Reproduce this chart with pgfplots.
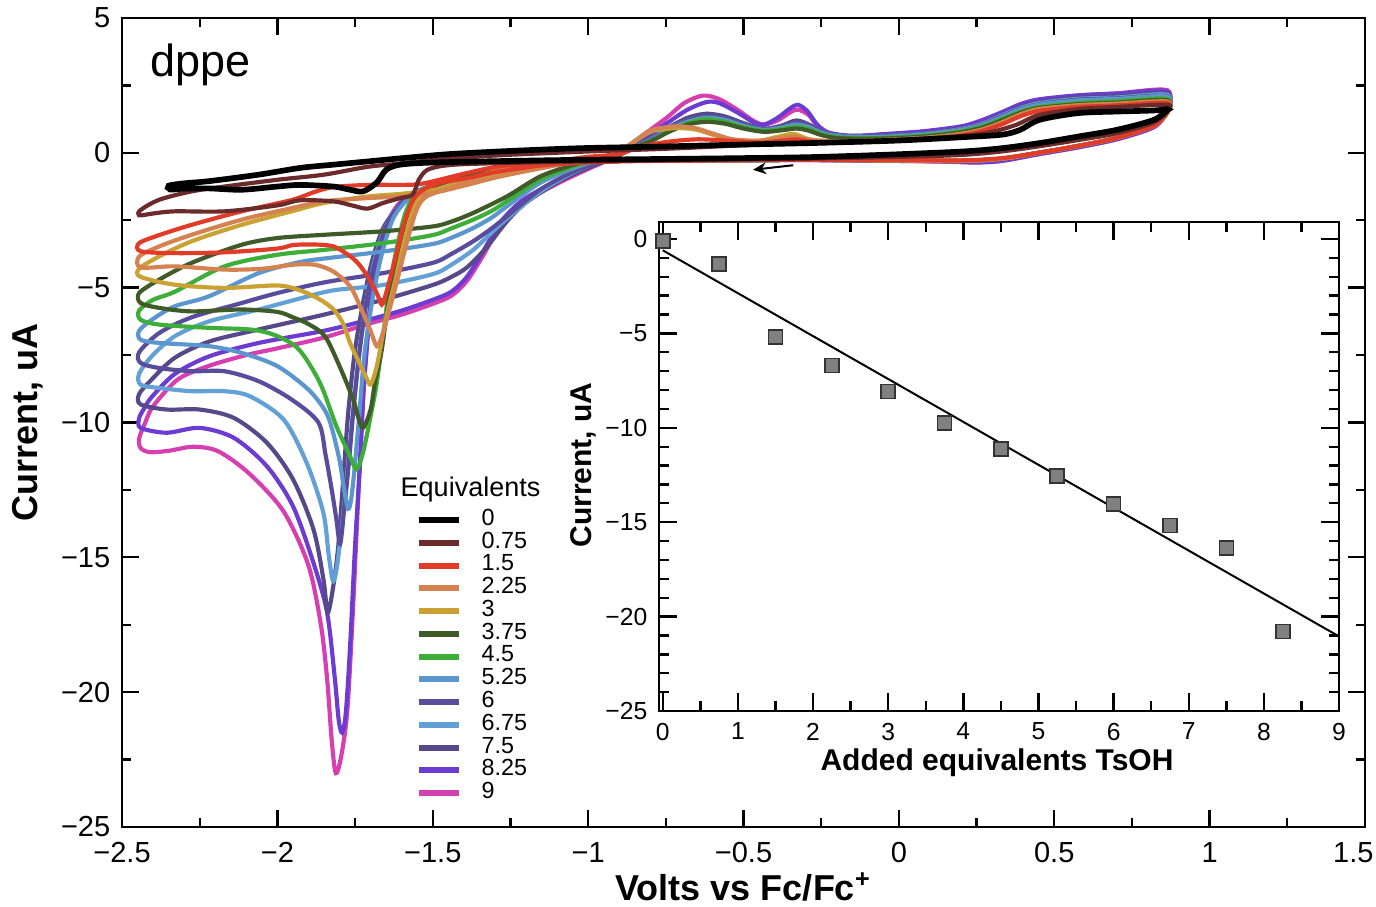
\documentclass[border=0pt]{standalone}
\usepackage{pgfplots}
\pgfplotsset{compat=1.18}
\usepackage{fontspec}
\setmainfont{Liberation Sans}
\usetikzlibrary{arrows.meta,calc}

\definecolor{c0}{HTML}{000000}
\definecolor{c075}{HTML}{6B2B2B}
\definecolor{c15}{HTML}{E23B28}
\definecolor{c225}{HTML}{D4824F}
\definecolor{c3}{HTML}{C9A233}
\definecolor{c375}{HTML}{3F5B27}
\definecolor{c45}{HTML}{3DAE38}
\definecolor{c525}{HTML}{5B96CE}
\definecolor{c6}{HTML}{5A4C9C}
\definecolor{c675}{HTML}{62A0D6}
\definecolor{c75}{HTML}{56498A}
\definecolor{c825}{HTML}{6B3BD2}
\definecolor{c9}{HTML}{D63FB0}

\begin{document}
\begin{tikzpicture}
\begin{axis}[
    name=main,
    scale only axis,
    width=372.9pt, height=242.7pt,
    xmin=-2.5, xmax=1.5, ymin=-25, ymax=5,
    xtick={-2.5,-2,-1.5,-1,-0.5,0,0.5,1,1.5},
    xticklabels={−2.5,−2,−1.5,−1,−0.5,0,0.5,1,{1.5\hspace*{7pt}}},
    ytick={-25,-20,-15,-10,-5,0,5},
    yticklabels={−25,−20,−15,−10,−5,0,5},
    minor x tick num=1, minor y tick num=1,
    major tick length=5pt, minor tick length=2.7pt,
    axis line style={line width=0.8pt},
    every tick/.append style={line width=0.7pt, black},
    tick label style={font=\fontsize{8.7}{10}\selectfont},
    xticklabel style={yshift=-1pt},
    xlabel={Volts vs Fc/Fc\textsuperscript{+}},
    ylabel={Current, uA},
    every axis x label/.style={at={(axis description cs:0.5,-0.074)}, anchor=center, font=\bfseries\fontsize{10.8}{12}\selectfont},
    every axis y label/.style={at={(axis description cs:-0.0756,0.5)}, rotate=90, anchor=center, font=\bfseries\fontsize{10.8}{12}\selectfont},
    reverse legend,
    legend cell align=left,
    legend style={draw=none, fill=none, at={(axis description cs:0.2357,0.3943)}, anchor=north west,
        font=\fontsize{7}{7}\selectfont, inner sep=0pt, column sep=6pt,
        nodes={inner sep=0pt, text height=5pt, text depth=1.83pt}},
    legend image code/.code={\draw[#1, line width=1.8pt] (0pt,0pt) -- (12pt,0pt);},
    every axis plot/.append style={smooth, tension=0.5, line width=1.25pt},
]

% 9 eq
\addplot[c9] coordinates {
(0.864,1.5) (0.82,0.95) (0.70,0.5) (0.575,0.2) (0.45,-0.05) (0.33,-0.3) (0.25,-0.36) (0.15,-0.33) (0.0,-0.3) (-0.3,-0.27) (-0.6,-0.28) (-0.9,-0.3) (-1.1,-0.36) (-1.25,-0.5) (-1.35,-0.7) (-1.43,-0.95) (-1.5,-1.2) (-1.56,-1.5) (-1.61,-1.9) (-1.65,-2.7) (-1.68,-4.0) (-1.70,-5.5) (-1.715,-7.5) (-1.728,-10.0) (-1.742,-13.3) (-1.757,-17.0) (-1.775,-20.7) (-1.795,-22.4) (-1.812,-23.0) (-1.825,-21.8) (-1.84,-19.5) (-1.86,-17.5) (-1.9,-15.3) (-1.98,-13.3) (-2.09,-11.9) (-2.19,-11.07) (-2.27,-10.9) (-2.35,-11.05) (-2.41,-11.1) (-2.44,-10.95)
(-2.445,-10.6) (-2.425,-10.0) (-2.40,-9.4) (-2.32,-8.4) (-2.22,-7.9) (-2.1,-7.5) (-2.0,-7.25) (-1.85,-6.85) (-1.71,-6.35) (-1.6,-6.0) (-1.5,-5.6) (-1.44,-5.3) (-1.39,-4.75) (-1.34,-3.85) (-1.284,-2.75) (-1.21,-1.86) (-1.10,-1.15) (-1.0,-0.6) (-0.95,-0.35) (-0.9,-0.1) (-0.865,0.3) (-0.80,0.85) (-0.743,1.34) (-0.69,1.85) (-0.632,2.12) (-0.58,2.0) (-0.52,1.6) (-0.47,1.2) (-0.435,1.05) (-0.39,1.2) (-0.35,1.5) (-0.325,1.6) (-0.29,1.4) (-0.263,1.0) (-0.226,0.73) (-0.15,0.62) (-0.04,0.68) (0.08,0.78) (0.2,0.95) (0.26,1.15) (0.33,1.47) (0.39,1.78) (0.45,1.96) (0.575,2.12) (0.7,2.2) (0.864,2.32) (0.864,1.5)
};
\addlegendentry{9}

% 8.25 eq
\addplot[c825] coordinates {
(0.864,1.5) (0.82,0.95) (0.70,0.5) (0.575,0.2) (0.45,-0.05) (0.33,-0.3) (0.25,-0.35) (0.15,-0.32) (0.0,-0.3) (-0.3,-0.27) (-0.6,-0.28) (-0.9,-0.3) (-1.1,-0.36) (-1.25,-0.5) (-1.35,-0.7) (-1.43,-0.95) (-1.5,-1.2) (-1.56,-1.5) (-1.61,-1.95) (-1.65,-2.8) (-1.68,-4.1) (-1.70,-5.6) (-1.714,-7.5) (-1.724,-9.0) (-1.734,-11.5) (-1.75,-14.58) (-1.766,-18.3) (-1.78,-20.8) (-1.792,-21.5) (-1.803,-21.0) (-1.815,-19.5) (-1.84,-17.05) (-1.884,-15.2) (-1.95,-13.1) (-2.034,-11.62) (-2.14,-10.57) (-2.25,-10.2) (-2.356,-10.38) (-2.44,-10.2)
(-2.445,-9.85) (-2.43,-9.5) (-2.404,-9.05) (-2.33,-8.2) (-2.22,-7.55) (-2.06,-7.05) (-1.85,-6.6) (-1.71,-6.2) (-1.6,-5.85) (-1.5,-5.45) (-1.44,-5.15) (-1.39,-4.6) (-1.34,-3.7) (-1.284,-2.6) (-1.21,-1.75) (-1.10,-1.05) (-1.0,-0.55) (-0.95,-0.33) (-0.9,-0.1) (-0.865,0.25) (-0.80,0.7) (-0.74,1.15) (-0.68,1.6) (-0.62,1.88) (-0.58,1.85) (-0.52,1.5) (-0.47,1.15) (-0.435,1.04) (-0.39,1.3) (-0.35,1.65) (-0.325,1.78) (-0.295,1.55) (-0.263,1.05) (-0.226,0.75) (-0.15,0.63) (-0.04,0.7) (0.08,0.8) (0.2,0.98) (0.26,1.18) (0.33,1.5) (0.39,1.8) (0.45,1.98) (0.575,2.13) (0.7,2.2) (0.864,2.28) (0.864,1.5)
};
\addlegendentry{8.25}

% 7.5 eq
\addplot[c75] coordinates {
(0.864,1.5) (0.82,1.0) (0.70,0.55) (0.575,0.25) (0.45,0.0) (0.33,-0.22) (0.2,-0.3) (0.0,-0.28) (-0.3,-0.26) (-0.6,-0.28) (-0.9,-0.3) (-1.1,-0.37) (-1.25,-0.52) (-1.35,-0.75) (-1.43,-0.98) (-1.5,-1.2) (-1.56,-1.5) (-1.61,-2.0) (-1.66,-2.8) (-1.695,-4.0) (-1.72,-5.3) (-1.75,-7.3) (-1.772,-9.64) (-1.788,-12.1) (-1.804,-14.58) (-1.82,-16.06) (-1.838,-17.05) (-1.852,-15.8) (-1.884,-13.96) (-1.95,-12.1) (-2.034,-10.75) (-2.14,-9.83) (-2.25,-9.52) (-2.356,-9.52) (-2.44,-9.33)
(-2.445,-8.95) (-2.404,-8.4) (-2.33,-7.6) (-2.22,-7.0) (-2.06,-6.55) (-1.85,-6.0) (-1.66,-5.45) (-1.5,-4.9) (-1.44,-4.6) (-1.39,-4.25) (-1.33,-3.55) (-1.262,-2.55) (-1.2,-1.85) (-1.10,-1.1) (-1.0,-0.55) (-0.95,-0.33) (-0.9,-0.1) (-0.86,0.2) (-0.80,0.55) (-0.74,0.95) (-0.68,1.3) (-0.62,1.45) (-0.56,1.35) (-0.5,1.1) (-0.435,0.9) (-0.38,1.0) (-0.33,1.2) (-0.29,1.05) (-0.25,0.8) (-0.2,0.65) (-0.1,0.62) (0.0,0.66) (0.1,0.74) (0.2,0.9) (0.27,1.1) (0.33,1.4) (0.39,1.7) (0.45,1.88) (0.575,2.05) (0.7,2.1) (0.864,2.2) (0.864,1.5)
};
\addlegendentry{7.5}

% 6.75 eq
\addplot[c675] coordinates {
(0.864,1.5) (0.82,1.0) (0.70,0.55) (0.575,0.25) (0.45,0.0) (0.33,-0.22) (0.2,-0.3) (0.0,-0.28) (-0.3,-0.26) (-0.6,-0.28) (-0.9,-0.3) (-1.1,-0.37) (-1.25,-0.52) (-1.35,-0.75) (-1.43,-0.98) (-1.5,-1.2) (-1.56,-1.5) (-1.61,-2.0) (-1.65,-2.7) (-1.685,-3.9) (-1.715,-5.6) (-1.74,-7.8) (-1.76,-10.0) (-1.78,-12.5) (-1.80,-14.6) (-1.812,-15.6) (-1.822,-15.85) (-1.835,-14.9) (-1.852,-13.35) (-1.906,-11.49) (-1.98,-9.89) (-2.088,-9.03) (-2.17,-8.84) (-2.276,-8.84) (-2.38,-8.72) (-2.44,-8.6)
(-2.445,-8.2) (-2.404,-7.54) (-2.33,-6.8) (-2.22,-6.25) (-2.06,-5.81) (-1.927,-5.4) (-1.82,-5.1) (-1.66,-4.9) (-1.5,-4.5) (-1.44,-4.15) (-1.37,-3.6) (-1.31,-2.95) (-1.262,-2.45) (-1.155,-1.45) (-1.047,-0.72) (-0.98,-0.4) (-0.92,-0.15) (-0.87,0.1) (-0.80,0.5) (-0.74,0.9) (-0.68,1.2) (-0.62,1.35) (-0.56,1.28) (-0.5,1.05) (-0.435,0.88) (-0.38,0.97) (-0.33,1.1) (-0.29,1.0) (-0.25,0.78) (-0.2,0.64) (-0.1,0.6) (0.0,0.64) (0.1,0.72) (0.2,0.88) (0.27,1.08) (0.33,1.38) (0.39,1.65) (0.45,1.84) (0.575,2.0) (0.7,2.05) (0.864,2.15) (0.864,1.5)
};
\addlegendentry{6.75}

% 6 eq
\addplot[c6] coordinates {
(0.864,1.5) (0.82,1.0) (0.70,0.55) (0.575,0.25) (0.45,0.0) (0.33,-0.22) (0.2,-0.3) (0.0,-0.28) (-0.3,-0.26) (-0.6,-0.28) (-0.9,-0.3) (-1.1,-0.37) (-1.25,-0.52) (-1.35,-0.75) (-1.43,-0.98) (-1.5,-1.2) (-1.56,-1.5) (-1.605,-1.95) (-1.645,-2.6) (-1.68,-3.8) (-1.71,-5.3) (-1.735,-7.3) (-1.755,-9.5) (-1.77,-11.5) (-1.785,-13.2) (-1.798,-14.5) (-1.81,-13.6) (-1.825,-12.5) (-1.845,-11.2) (-1.868,-10.0) (-1.954,-9.15) (-2.06,-8.47) (-2.17,-8.1) (-2.276,-8.1) (-2.38,-7.98) (-2.44,-7.79)
(-2.445,-7.4) (-2.38,-6.68) (-2.276,-6.1) (-2.115,-5.57) (-2.0,-5.2) (-1.847,-4.8) (-1.66,-4.46) (-1.5,-4.08) (-1.44,-3.75) (-1.37,-3.28) (-1.31,-2.8) (-1.262,-2.36) (-1.155,-1.37) (-1.047,-0.69) (-0.973,-0.38) (-0.92,-0.15) (-0.87,0.1) (-0.8,0.48) (-0.74,0.88) (-0.68,1.2) (-0.62,1.38) (-0.56,1.3) (-0.5,1.05) (-0.435,0.88) (-0.38,0.98) (-0.33,1.12) (-0.29,1.0) (-0.25,0.78) (-0.2,0.63) (-0.1,0.6) (0.0,0.63) (0.1,0.7) (0.2,0.86) (0.27,1.05) (0.33,1.35) (0.39,1.62) (0.45,1.8) (0.575,1.97) (0.7,2.02) (0.864,2.1) (0.864,1.5)
};
\addlegendentry{6}

% 5.25 eq
\addplot[c525] coordinates {
(0.864,1.5) (0.82,1.0) (0.70,0.55) (0.575,0.25) (0.45,0.0) (0.33,-0.22) (0.2,-0.3) (0.0,-0.28) (-0.3,-0.26) (-0.6,-0.28) (-0.9,-0.3) (-1.1,-0.37) (-1.25,-0.52) (-1.35,-0.75) (-1.43,-0.98) (-1.5,-1.2) (-1.555,-1.5) (-1.595,-1.9) (-1.63,-2.5) (-1.665,-3.8) (-1.695,-5.5) (-1.72,-7.5) (-1.735,-9.5) (-1.75,-11.5) (-1.762,-12.8) (-1.772,-13.2) (-1.785,-12.5) (-1.80,-11.4) (-1.825,-10.2) (-1.847,-9.55) (-1.90,-8.78) (-2.0,-7.91) (-2.115,-7.42) (-2.22,-7.17) (-2.38,-7.05) (-2.44,-6.93)
(-2.445,-6.6) (-2.404,-6.19) (-2.33,-5.69) (-2.22,-5.32) (-2.06,-4.46) (-1.927,-4.05) (-1.82,-3.88) (-1.66,-3.66) (-1.5,-3.38) (-1.44,-3.15) (-1.37,-2.79) (-1.31,-2.4) (-1.262,-1.99) (-1.155,-1.12) (-1.047,-0.57) (-0.98,-0.32) (-0.92,-0.12) (-0.87,0.1) (-0.8,0.45) (-0.74,0.85) (-0.68,1.15) (-0.62,1.3) (-0.56,1.22) (-0.5,1.0) (-0.435,0.85) (-0.38,0.93) (-0.33,1.05) (-0.29,0.95) (-0.25,0.75) (-0.2,0.62) (-0.1,0.58) (0.0,0.62) (0.1,0.7) (0.2,0.85) (0.27,1.03) (0.33,1.32) (0.39,1.6) (0.45,1.78) (0.575,1.94) (0.7,2.0) (0.864,2.08) (0.864,1.5)
};
\addlegendentry{5.25}

% 4.5 eq
\addplot[c45] coordinates {
(0.864,1.5) (0.82,1.0) (0.70,0.55) (0.575,0.25) (0.45,0.0) (0.33,-0.22) (0.2,-0.3) (0.0,-0.28) (-0.3,-0.26) (-0.6,-0.28) (-0.9,-0.3) (-1.1,-0.37) (-1.25,-0.52) (-1.35,-0.76) (-1.45,-1.05) (-1.52,-1.3) (-1.56,-1.6) (-1.59,-2.3) (-1.615,-3.5) (-1.64,-5.0) (-1.66,-6.8) (-1.68,-8.53) (-1.70,-9.77) (-1.724,-11.1) (-1.745,-11.74) (-1.766,-11.25) (-1.81,-10.14) (-1.863,-8.53) (-1.93,-7.3) (-2.0,-6.8) (-2.08,-6.56) (-2.22,-6.49) (-2.38,-6.37) (-2.44,-6.19)
(-2.445,-5.85) (-2.40,-5.45) (-2.33,-5.15) (-2.17,-4.21) (-2.0,-3.78) (-1.85,-3.6) (-1.66,-3.35) (-1.5,-3.05) (-1.44,-2.8) (-1.37,-2.48) (-1.31,-2.15) (-1.262,-1.8) (-1.155,-1.0) (-1.047,-0.5) (-0.98,-0.28) (-0.92,-0.1) (-0.87,0.1) (-0.8,0.42) (-0.74,0.8) (-0.68,1.1) (-0.62,1.25) (-0.56,1.15) (-0.5,0.95) (-0.435,0.82) (-0.38,0.88) (-0.33,0.97) (-0.29,0.88) (-0.25,0.7) (-0.2,0.58) (-0.1,0.55) (0.0,0.58) (0.1,0.66) (0.2,0.8) (0.27,0.98) (0.33,1.25) (0.39,1.52) (0.45,1.7) (0.575,1.85) (0.7,1.92) (0.864,2.0) (0.864,1.5)
};
\addlegendentry{4.5}

% 3.75 eq
\addplot[c375] coordinates {
(0.864,1.5) (0.82,1.0) (0.70,0.55) (0.575,0.25) (0.45,0.0) (0.33,-0.22) (0.2,-0.3) (0.0,-0.28) (-0.3,-0.26) (-0.6,-0.28) (-0.9,-0.3) (-1.1,-0.37) (-1.25,-0.52) (-1.35,-0.78) (-1.46,-1.1) (-1.53,-1.4) (-1.565,-1.8) (-1.595,-2.8) (-1.62,-4.2) (-1.645,-5.7) (-1.664,-7.3) (-1.686,-8.53) (-1.70,-9.52) (-1.724,-10.2) (-1.74,-9.8) (-1.756,-9.15) (-1.8,-7.91) (-1.847,-6.8) (-1.90,-6.35) (-1.95,-6.1) (-2.0,-5.9) (-2.115,-5.81) (-2.276,-5.88) (-2.38,-5.75) (-2.44,-5.57)
(-2.445,-5.2) (-2.38,-4.7) (-2.276,-4.08) (-2.115,-3.41) (-2.0,-3.16) (-1.85,-3.04) (-1.66,-2.91) (-1.5,-2.73) (-1.44,-2.55) (-1.37,-2.23) (-1.262,-1.62) (-1.155,-0.88) (-1.047,-0.44) (-0.973,-0.25) (-0.92,-0.08) (-0.87,0.12) (-0.8,0.42) (-0.74,0.78) (-0.68,1.05) (-0.62,1.15) (-0.56,1.08) (-0.5,0.9) (-0.435,0.78) (-0.38,0.83) (-0.33,0.9) (-0.29,0.82) (-0.25,0.66) (-0.2,0.55) (-0.1,0.52) (0.0,0.55) (0.1,0.62) (0.2,0.76) (0.27,0.94) (0.33,1.2) (0.39,1.48) (0.45,1.66) (0.575,1.8) (0.7,1.86) (0.864,1.95) (0.864,1.5)
};
\addlegendentry{3.75}

% 3 eq
\addplot[c3] coordinates {
(0.864,1.5) (0.82,1.0) (0.70,0.55) (0.575,0.25) (0.45,0.0) (0.33,-0.22) (0.2,-0.3) (0.0,-0.28) (-0.3,-0.26) (-0.6,-0.28) (-0.9,-0.3) (-1.1,-0.38) (-1.25,-0.55) (-1.35,-0.85) (-1.444,-1.2) (-1.525,-1.56) (-1.557,-1.93) (-1.59,-3.2) (-1.62,-4.7) (-1.644,-5.81) (-1.66,-6.68) (-1.68,-7.91) (-1.70,-8.59) (-1.715,-8.3) (-1.74,-7.7) (-1.766,-7.05) (-1.79,-6.3) (-1.82,-5.8) (-1.863,-5.44) (-1.927,-5.1) (-2.0,-4.92) (-2.17,-5.01) (-2.33,-4.89) (-2.44,-4.6)
(-2.445,-4.3) (-2.38,-3.84) (-2.276,-3.28) (-2.115,-2.67) (-1.954,-2.17) (-1.85,-1.86) (-1.71,-1.62) (-1.6,-1.52) (-1.5,-1.38) (-1.39,-1.08) (-1.28,-0.76) (-1.12,-0.42) (-1.0,-0.22) (-0.92,-0.05) (-0.866,0.3) (-0.8,0.78) (-0.75,0.88) (-0.718,0.92) (-0.657,0.87) (-0.595,0.66) (-0.534,0.48) (-0.45,0.45) (-0.38,0.62) (-0.337,0.7) (-0.287,0.5) (-0.2,0.42) (-0.1,0.45) (0.0,0.5) (0.1,0.57) (0.2,0.7) (0.27,0.87) (0.33,1.12) (0.39,1.42) (0.45,1.62) (0.575,1.76) (0.7,1.82) (0.864,1.9) (0.864,1.5)
};
\addlegendentry{3}

% 2.25 eq
\addplot[c225] coordinates {
(0.864,1.5) (0.82,1.0) (0.70,0.55) (0.575,0.25) (0.45,0.0) (0.33,-0.22) (0.2,-0.3) (0.0,-0.28) (-0.3,-0.26) (-0.6,-0.28) (-0.9,-0.3) (-1.1,-0.38) (-1.25,-0.55) (-1.35,-0.88) (-1.444,-1.3) (-1.52,-1.62) (-1.552,-2.11) (-1.584,-3.35) (-1.616,-4.8) (-1.644,-6.0) (-1.662,-6.75) (-1.68,-7.17) (-1.70,-6.6) (-1.734,-5.69) (-1.766,-4.95) (-1.82,-4.4) (-1.88,-4.15) (-1.95,-4.15) (-2.05,-4.3) (-2.17,-4.33) (-2.33,-4.21) (-2.44,-4.25)
(-2.445,-3.85) (-2.38,-3.47) (-2.276,-3.04) (-2.115,-2.48) (-1.954,-2.05) (-1.85,-1.8) (-1.71,-1.68) (-1.605,-1.62) (-1.5,-1.49) (-1.39,-1.19) (-1.284,-0.88) (-1.12,-0.5) (-1.0,-0.25) (-0.92,-0.05) (-0.866,0.3) (-0.8,0.82) (-0.72,0.98) (-0.657,0.92) (-0.595,0.7) (-0.534,0.5) (-0.45,0.45) (-0.38,0.55) (-0.337,0.6) (-0.287,0.48) (-0.2,0.42) (-0.1,0.44) (0.0,0.5) (0.1,0.56) (0.2,0.7) (0.27,0.86) (0.33,1.1) (0.39,1.4) (0.45,1.6) (0.575,1.75) (0.7,1.8) (0.864,1.88) (0.864,1.5)
};
\addlegendentry{2.25}

% 1.5 eq
\addplot[c15] coordinates {
(0.864,1.5) (0.82,1.0) (0.70,0.55) (0.575,0.25) (0.45,0.0) (0.33,-0.2) (0.2,-0.28) (0.0,-0.27) (-0.3,-0.26) (-0.6,-0.28) (-0.9,-0.32) (-1.123,-0.44) (-1.284,-0.69) (-1.39,-0.94) (-1.477,-1.12) (-1.53,-1.37) (-1.563,-1.74) (-1.595,-2.73) (-1.627,-4.21) (-1.65,-5.2) (-1.664,-5.63) (-1.68,-5.2) (-1.71,-4.58) (-1.74,-4.1) (-1.77,-3.8) (-1.82,-3.47) (-1.88,-3.4) (-1.95,-3.42) (-2.0,-3.55) (-2.17,-3.69) (-2.33,-3.72) (-2.44,-3.65)
(-2.445,-3.35) (-2.38,-3.05) (-2.276,-2.67) (-2.115,-2.17) (-1.954,-1.75) (-1.88,-1.45) (-1.82,-1.27) (-1.71,-1.19) (-1.605,-1.19) (-1.55,-1.17) (-1.5,-1.06) (-1.39,-0.75) (-1.284,-0.5) (-1.123,-0.32) (-1.0,-0.15) (-0.9,-0.05) (-0.84,0.2) (-0.75,0.4) (-0.65,0.5) (-0.55,0.45) (-0.45,0.38) (-0.38,0.45) (-0.33,0.5) (-0.28,0.42) (-0.2,0.38) (-0.1,0.4) (0.0,0.45) (0.1,0.52) (0.2,0.65) (0.27,0.82) (0.33,1.05) (0.39,1.35) (0.45,1.55) (0.575,1.7) (0.7,1.76) (0.864,1.85) (0.864,1.5)
};
\addlegendentry{1.5}

% 0.75 eq
\addplot[c075] coordinates {
(0.864,1.55) (0.82,1.12) (0.70,0.72) (0.575,0.47) (0.45,0.24) (0.33,0.05) (0.2,-0.08) (0.0,-0.15) (-0.3,-0.22) (-0.6,-0.26) (-0.9,-0.3) (-1.2,-0.36) (-1.4,-0.42) (-1.477,-0.5) (-1.52,-0.65) (-1.545,-1.0) (-1.565,-1.55) (-1.605,-1.68) (-1.66,-1.86) (-1.71,-2.07) (-1.76,-1.95) (-1.82,-1.8) (-1.927,-1.76) (-2.0,-1.95) (-2.17,-2.17) (-2.33,-2.17) (-2.40,-2.25) (-2.445,-2.32)
(-2.44,-2.12) (-2.38,-1.74) (-2.276,-1.43) (-2.17,-1.25) (-2.0,-1.0) (-1.85,-0.81) (-1.71,-0.52) (-1.605,-0.4) (-1.5,-0.27) (-1.3,-0.1) (-1.0,0.05) (-0.75,0.15) (-0.5,0.28) (-0.3,0.36) (0.0,0.48) (0.2,0.62) (0.3,0.78) (0.38,1.05) (0.45,1.4) (0.575,1.62) (0.7,1.7) (0.864,1.78) (0.864,1.55)
};
\addlegendentry{0.75}

% 0 eq
\addplot[c0, line width=1.7pt] coordinates {
(0.864,1.59) (0.82,1.22) (0.70,0.85) (0.575,0.6) (0.452,0.36) (0.33,0.17) (0.205,0.05) (-0.04,-0.07) (-0.287,-0.16) (-0.53,-0.2) (-0.78,-0.23) (-1.03,-0.26) (-1.25,-0.3) (-1.5,-0.36) (-1.605,-0.44) (-1.65,-0.63) (-1.68,-1.1) (-1.724,-1.43) (-1.766,-1.37) (-1.82,-1.25) (-1.927,-1.19) (-2.0,-1.25) (-2.115,-1.37) (-2.22,-1.32) (-2.30,-1.33) (-2.345,-1.36)
(-2.35,-1.22) (-2.30,-1.13) (-2.22,-1.05) (-2.06,-0.81) (-1.927,-0.56) (-1.82,-0.44) (-1.71,-0.32) (-1.6,-0.2) (-1.45,-0.05) (-1.25,0.07) (-1.03,0.17) (-0.78,0.23) (-0.53,0.3) (-0.287,0.36) (-0.04,0.44) (0.08,0.5) (0.205,0.58) (0.33,0.67) (0.39,0.85) (0.452,1.22) (0.575,1.47) (0.70,1.53) (0.82,1.57) (0.864,1.62) (0.864,1.59)
};
\addlegendentry{0}

\node[anchor=west, inner sep=0pt, font=\fontsize{13.5}{16}\selectfont] at (axis cs:-2.41,3.25) {dppe};
\node[anchor=west, inner sep=0pt, font=\fontsize{8.1}{9}\selectfont] at (axis description cs:0.2237,0.4166) {Equivalents};
\draw[-{Stealth[length=4pt,width=3.5pt]}, line width=0.6pt] (axis cs:-0.34,-0.46) -- (axis cs:-0.47,-0.63);
\end{axis}

\begin{axis}[
    at={($(main.north west)+(161.1pt,-61.2pt)$)}, anchor=north west,
    scale only axis,
    width=204pt, height=146.7pt,
    xmin=-0.05, xmax=9, ymin=-25, ymax=0.9,
    clip=false,
    axis background/.style={fill=white},
    xtick={0,1,2,3,4,5,6,7,8,9},
    xticklabels={0,1,2,3,4,5,6,7,8,9},
    ytick={-25,-20,-15,-10,-5,0},
    yticklabels={−25,−20,−15,−10,−5,0},
    minor x tick num=1, minor y tick num=4,
    major tick length=5.5pt, minor tick length=3pt,
    axis line style={line width=0.8pt},
    every tick/.append style={line width=0.7pt, black},
    tick label style={font=\fontsize{7.4}{8}\selectfont},
    xlabel={Added equivalents TsOH},
    ylabel={Current, uA},
    every axis x label/.style={at={(axis description cs:0.497,-0.106)}, anchor=center, font=\bfseries\fontsize{9}{10}\selectfont},
    every axis y label/.style={at={(axis description cs:-0.112,0.503)}, rotate=90, anchor=center, font=\bfseries\fontsize{9}{10}\selectfont},
]
\addplot[black, line width=0.6pt] coordinates {(0,-0.6) (9,-21.05)};
\addplot[only marks, mark=square*, mark size=2.1pt, mark options={fill=black!50, draw=black!80, line width=0.5pt}] coordinates {
(0,-0.1) (0.75,-1.32) (1.5,-5.2) (2.25,-6.7) (3,-8.07) (3.75,-9.75) (4.5,-11.14) (5.25,-12.56) (6,-14.04) (6.75,-15.17) (7.5,-16.35) (8.25,-20.79)
};
\end{axis}

\pgfresetboundingbox
\path ($(main.south west)+(-36.6pt,-23.7pt)$) rectangle ($(main.north east)+(3.3pt,5.4pt)$);
\end{tikzpicture}
\end{document}
